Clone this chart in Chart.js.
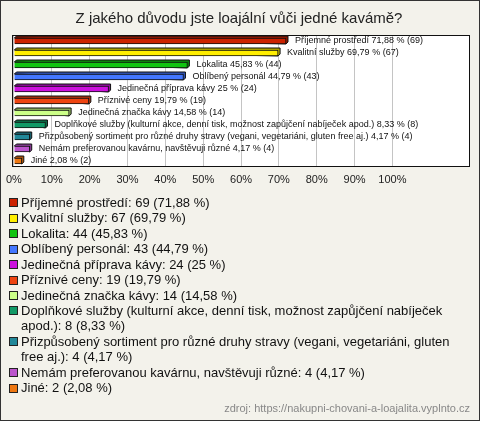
<!DOCTYPE html>
<html lang="cs">
<head>
  <meta charset="UTF-8">
  <title>Z jakého důvodu jste loajální vůči jedné kavárně?</title>
  <script src="https://cdn.jsdelivr.net/npm/chart.js"></script>
  <style>
    html, body { margin: 0; padding: 0; background: #fff; }
    canvas { display: block; }
  </style>
</head>
<body>
  <canvas id="chart" width="480" height="421"></canvas>

  <script>
    const chartTitle = 'Z jakého důvodu jste loajální vůči jedné kavámě?';
    const categories = [
      'Příjemné prostředí',
      'Kvalitní služby',
      'Lokalita',
      'Oblíbený personál',
      'Jedinečná příprava kávy',
      'Příznivé ceny',
      'Jedinečná značka kávy',
      'Doplňkové služby (kulturní akce, denní tisk, možnost zapůjčení nabíječek apod.)',
      'Přizpůsobený sortiment pro různé druhy stravy (vegani, vegetariáni, gluten free aj.)',
      'Nemám preferovanou kavárnu, navštěvuji různé',
      'Jiné'
    ];
    const counts = [69, 67, 44, 43, 24, 19, 14, 8, 4, 4, 2];
    const percents = [71.88, 69.79, 45.83, 44.79, 25, 19.79, 14.58, 8.33, 4.17, 4.17, 2.08];
    const barColors = ['#cc2200', '#ffee00', '#11c411', '#4477ff', '#cc11dd', '#ee4411',
                       '#ccff88', '#119966', '#228899', '#bb55cc', '#ee7711'];
    const tickValues = [0, 10, 20, 30, 40, 50, 60, 70, 80, 90, 100];
    const sourceText = 'zdroj: https://nakupni-chovani-a-loajalita.vyplnto.cz';

    const fmt = v => String(v).replace('.', ',');

    // darker shade for the 3D face
    function shade(hex, f) {
      const n = parseInt(hex.slice(1), 16);
      const r = Math.round(((n >> 16) & 255) * f);
      const g = Math.round(((n >> 8) & 255) * f);
      const b = Math.round((n & 255) * f);
      return `rgb(${r},${g},${b})`;
    }

    const framePlugin = {
      id: 'frame',
      beforeDraw(chart) {
        const ctx = chart.ctx;
        const a = chart.chartArea;
        ctx.save();
        ctx.fillStyle = '#f3f2eb';
        ctx.fillRect(0, 0, chart.width, chart.height);
        ctx.strokeStyle = '#333';
        ctx.lineWidth = 1;
        ctx.strokeRect(0.5, 0.5, chart.width - 1, chart.height - 1);
        ctx.fillStyle = '#fff';
        ctx.fillRect(a.left - 1, a.top, a.right - a.left + 1, a.bottom - a.top);
        ctx.restore();
      },
      beforeDatasetsDraw(chart) {
        // depth faces behind each bar
        const ctx = chart.ctx;
        const meta = chart.getDatasetMeta(0);
        const d = 2;
        ctx.save();
        meta.data.forEach((el, i) => {
          const top = el.y - el.height / 2;
          const bot = el.y + el.height / 2;
          ctx.beginPath();
          ctx.moveTo(el.base, top);
          ctx.lineTo(el.base + d, top - d);
          ctx.lineTo(el.x + d, top - d);
          ctx.lineTo(el.x + d, bot - d);
          ctx.lineTo(el.x, bot);
          ctx.closePath();
          ctx.fillStyle = shade(barColors[i], 0.7);
          ctx.fill();
          ctx.strokeStyle = '#111';
          ctx.lineWidth = 1;
          ctx.stroke();
        });
        ctx.restore();
      },
      afterDatasetsDraw(chart) {
        const ctx = chart.ctx;
        const a = chart.chartArea;
        const meta = chart.getDatasetMeta(0);
        ctx.save();
        ctx.font = '9px "Liberation Sans", Arial, sans-serif';
        ctx.fillStyle = '#111';
        ctx.textBaseline = 'middle';
        meta.data.forEach((el, i) => {
          ctx.fillText(categories[i] + ' ' + fmt(percents[i]) + ' % (' + counts[i] + ')', el.x + 9, el.y);
        });
        ctx.strokeStyle = '#111';
        ctx.lineWidth = 1;
        ctx.strokeRect(Math.floor(a.left) - 0.5, Math.floor(a.top) + 0.5, Math.round(a.right - a.left) + 1, Math.round(a.bottom - a.top) - 1);
        ctx.restore();
      },
      afterDraw(chart) {
        const ctx = chart.ctx;
        ctx.save();
        // title
        ctx.font = '15px "Liberation Sans", Arial, sans-serif';
        ctx.fillStyle = '#222';
        ctx.textAlign = 'center';
        ctx.textBaseline = 'middle';
        ctx.fillText(chartTitle, 239, 19);

        // legend with word wrap
        ctx.font = '13px "Liberation Sans", Arial, sans-serif';
        ctx.textAlign = 'left';
        const textX = 21, maxW = 449, lineH = 15.45;
        let y = 203.3;
        categories.forEach((name, i) => {
          const words = (name + ': ' + counts[i] + ' (' + fmt(percents[i]) + ' %)').split(' ');
          const lines = [];
          let cur = '';
          words.forEach(w => {
            const t = cur ? cur + ' ' + w : w;
            if (ctx.measureText(t).width > maxW && cur) {
              lines.push(cur);
              cur = w;
            } else {
              cur = t;
            }
          });
          lines.push(cur);
          ctx.fillStyle = barColors[i];
          ctx.fillRect(9.5, Math.round(y) - 4.5, 8, 8);
          ctx.strokeStyle = '#222';
          ctx.strokeRect(9.5, Math.round(y) - 4.5, 8, 8);
          ctx.fillStyle = '#111';
          lines.forEach(l => {
            ctx.fillText(l, textX, y);
            y += lineH;
          });
        });

        // source
        ctx.font = '11px "Liberation Sans", Arial, sans-serif';
        ctx.fillStyle = '#888';
        ctx.textAlign = 'right';
        ctx.fillText(sourceText, 470, 409);
        ctx.restore();
      }
    };

    new Chart(document.getElementById('chart').getContext('2d'), {
      type: 'bar',
      data: {
        labels: categories,
        datasets: [{
          data: percents,
          backgroundColor: barColors,
          borderColor: '#111',
          borderWidth: 1,
          barThickness: 6
        }]
      },
      options: {
        indexAxis: 'y',
        responsive: false,
        animation: false,
        layout: { padding: { left: 11, right: 10, top: 35, bottom: 234 } },
        plugins: {
          legend: { display: false },
          title: { display: false },
          tooltip: { enabled: false }
        },
        scales: {
          y: { display: false },
          x: {
            min: 0,
            max: 120.5,
            afterBuildTicks(scale) {
              scale.ticks = tickValues.map(v => ({ value: v }));
            },
            afterFit(scale) { scale.height = 20; },
            ticks: {
              callback: v => v + '%',
              font: { family: '"Liberation Sans", Arial, sans-serif', size: 11 },
              color: '#222',
              padding: 6,
              maxRotation: 0,
              autoSkip: false
            },
            grid: { color: '#c4c4c4', drawTicks: false },
            border: { display: false }
          }
        }
      },
      plugins: [framePlugin]
    });
  </script>
</body>
</html>
